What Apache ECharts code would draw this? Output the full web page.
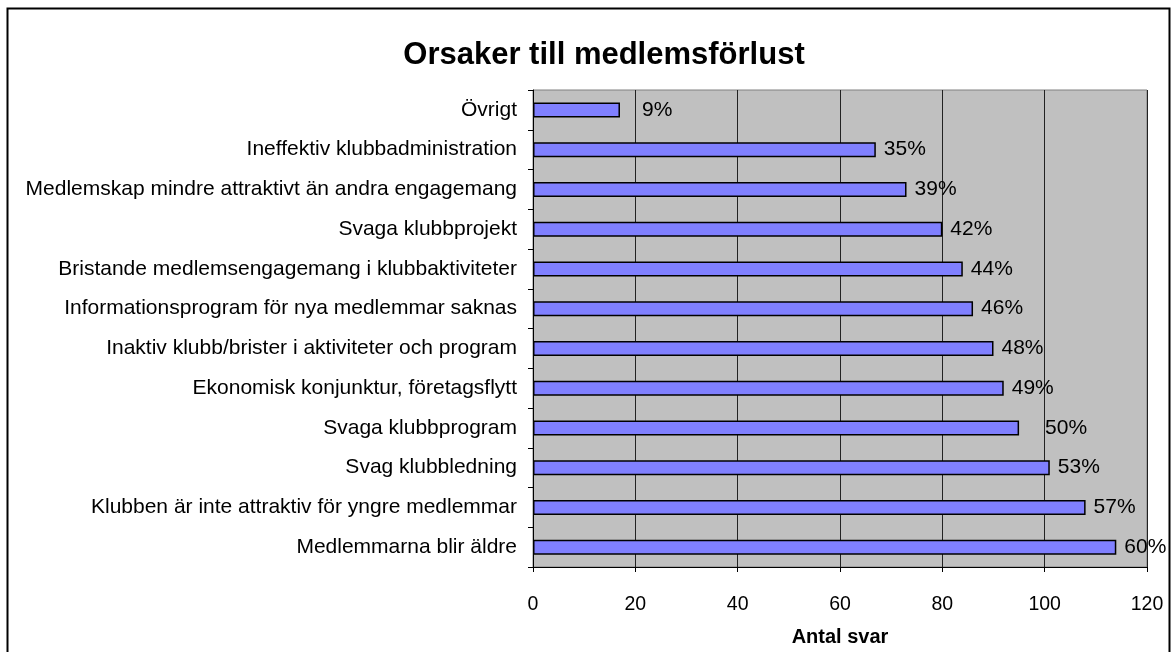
<!DOCTYPE html>
<html>
<head>
<meta charset="utf-8">
<style>
  html, body { margin: 0; padding: 0; background: #fff; }
  #chart_medlemID { width: 1171px; height: 652px; }
</style>
<script src="https://cdn.jsdelivr.net/npm/echarts@6/dist/echarts.min.js"></script>
</head>
<body>
<div id="chart_medlemID"></div>
<script>
//Orsaker till medlemsförlust
var orsakCategoryArray = ["Övrigt", "Ineffektiv klubbadministration", "Medlemskap mindre attraktivt än andra engagemang", "Svaga klubbprojekt", "Bristande medlemsengagemang i klubbaktiviteter", "Informationsprogram för nya medlemmar saknas", "Inaktiv klubb/brister i aktiviteter och program", "Ekonomisk konjunktur, företagsflytt", "Svaga klubbprogram", "Svag klubbledning", "Klubben är inte attraktiv för yngre medlemmar", "Medlemmarna blir äldre"];
var orsakValueArray = [17, 67, 73, 80, 84, 86, 90, 92, 95, 101, 108, 114];
var orsakPercentArray = [9, 35, 39, 42, 44, 46, 48, 49, 50, 53, 57, 60];
var antalTickArray = [0, 20, 40, 60, 80, 100, 120];

// a couple of labels sit further out in the original
var labelNudge = { 0: 14, 8: 18 };
var fontName = "'Liberation Sans', Arial, sans-serif";

var medlem_graphID = echarts.init(document.getElementById('chart_medlemID'));

var barData = [];
for (var i = 0; i < orsakValueArray.length; i++) {
	var item = { value: orsakValueArray[i] };
	if (labelNudge[i]) {
		item.label = { offset: [labelNudge[i], 0] };
	}
	barData.push(item);
}

var option = {
	animation: false,
	backgroundColor: '#ffffff',
	title: {
		text: 'Orsaker till medlemsförlust',
		left: 599,
		top: 35,
		textAlign: 'center',
		textStyle: { fontFamily: fontName, fontSize: 31, fontWeight: 'bold', color: '#000' }
	},
	graphic: [{
		type: 'rect',
		shape: { x: 7.5, y: 8.5, width: 1162, height: 700 },
		style: { fill: 'none', stroke: '#000', lineWidth: 2 },
		silent: true
	}],
	grid: {
		left: 533,
		right: 24,
		top: 90,
		bottom: 79,
		show: true,
		backgroundColor: '#C0C0C0',
		borderColor: '#808080',
		borderWidth: 1
	},
	xAxis: {
		type: 'value',
		min: antalTickArray[0],
		max: antalTickArray[antalTickArray.length - 1],
		interval: antalTickArray[1] - antalTickArray[0],
		name: 'Antal svar',
		nameLocation: 'middle',
		nameGap: 60,
		nameTextStyle: { fontFamily: fontName, fontSize: 20, fontWeight: 'bold', color: '#000' },
		axisLine: { show: true, lineStyle: { color: '#000', width: 1 } },
		axisTick: { show: true, length: 5, lineStyle: { color: '#000' } },
		axisLabel: { fontFamily: fontName, fontSize: 19.5, color: '#000', margin: 28 },
		splitLine: { show: true, lineStyle: { color: '#222', width: 1 } }
	},
	yAxis: {
		type: 'category',
		inverse: true,
		data: orsakCategoryArray,
		axisLine: { show: true, lineStyle: { color: '#000', width: 1 } },
		axisTick: { show: true, length: 5, lineStyle: { color: '#000' } },
		axisLabel: { fontFamily: fontName, fontSize: 21, color: '#000', margin: 16 },
		splitLine: { show: false }
	},
	series: [{
		name: 'Antal svar',
		type: 'bar',
		barWidth: 15,
		data: barData,
		itemStyle: { color: '#8080FF', borderColor: '#000', borderWidth: 1.5 },
		label: {
			show: true,
			position: 'right',
			distance: 8,
			fontFamily: fontName,
			fontSize: 21,
			color: '#000',
			formatter: function (p) { return orsakPercentArray[p.dataIndex] + '%'; }
		}
	}]
};
medlem_graphID.setOption(option);
</script>
</body>
</html>
